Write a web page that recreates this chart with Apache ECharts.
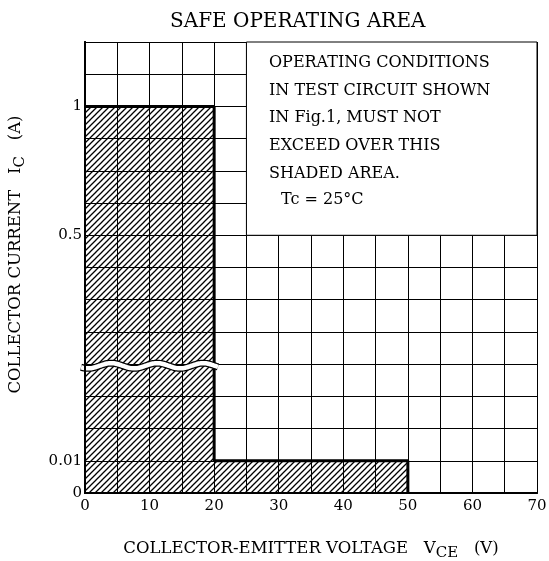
<!DOCTYPE html>
<html><head><meta charset="utf-8">
<script src="https://cdn.jsdelivr.net/npm/echarts@6/dist/echarts.min.js"></script>
<style>html,body{margin:0;padding:0;background:#fff;}#c{width:549px;height:561px;}</style>
</head><body><div id="c"></div>
<script>
// ---- data ----
const xTicks = [0, 10, 20, 30, 40, 50, 60, 70];
const yTickValues = [0, 0.01, 0.5, 1];        // real current values (A)
const yTickLabels = ['0', '0.01', '0.5', '1'];
const yTickRows = [0, 1, 8, 12];              // broken-scale grid rows for those values
const soaVce = [0, 20, 20, 50, 50];           // V
const soaIc = [1, 1, 0.01, 0.01, 0];          // A
const noteLines = ['OPERATING CONDITIONS', 'IN TEST CIRCUIT SHOWN', 'IN Fig.1, MUST NOT', 'EXCEED OVER THIS', 'SHADED AREA.'];
const noteTc = 'Tc = 25°C';

// map a current onto the broken axis (piecewise linear between ticks)
function toRow(v) {
  for (let i = 1; i < yTickValues.length; i++) {
    if (v <= yTickValues[i] || i === yTickValues.length - 1) {
      const a = yTickValues[i - 1], b = yTickValues[i];
      const ra = yTickRows[i - 1], rb = yTickRows[i];
      return ra + (v - a) / (b - a) * (rb - ra);
    }
  }
}

// hatch pattern
const tile = document.createElement('canvas');
tile.width = 6; tile.height = 6;
const g = tile.getContext('2d');
g.strokeStyle = '#000'; g.lineWidth = 1.3;
g.beginPath();
g.moveTo(-1, 7); g.lineTo(7, -1);
g.moveTo(-4, 4); g.lineTo(4, -4);
g.moveTo(2, 10); g.lineTo(10, 2);
g.stroke();

const FONT = 'DejaVu Serif';
const chart = echarts.init(document.getElementById('c'), null, {renderer: 'canvas'});

const soaData = soaVce.map((x, i) => [x, toRow(soaIc[i])]);
const breakRow = 3.95;

const frame = {show: true, lineStyle: {color: '#000', width: 2}};

const option = {
  animation: false,
  backgroundColor: '#fff',
  title: {
    text: 'SAFE OPERATING AREA', left: 165, top: 7,
    textStyle: {fontFamily: FONT, fontSize: 20, fontWeight: 'normal', color: '#000'}
  },
  grid: {left: 85, right: 12, top: 42, bottom: 68, containLabel: false, outerBoundsMode: 'none'},
  xAxis: [{
    type: 'value', min: 0, max: 70, interval: 5, position: 'bottom',
    axisLine: frame,
    axisTick: {show: false},
    axisLabel: {
      fontFamily: FONT, fontSize: 15, color: '#000', margin: 6,
      formatter: v => xTicks.includes(v) ? String(v) : ''
    },
    splitLine: {show: true, lineStyle: {color: '#000', width: 1}},
    name: '{a|COLLECTOR-EMITTER VOLTAGE   V}{s|CE}{a|   (V)}',
    nameLocation: 'middle', nameGap: 44,
    nameTextStyle: {
      rich: {
        a: {fontFamily: FONT, fontSize: 16.5, color: '#000'},
        s: {fontFamily: FONT, fontSize: 15, color: '#000', padding: [9, 0, 0, 0]}
      }
    }
  }, {
    type: 'value', min: 0, max: 70, position: 'top',
    axisLine: frame,
    axisTick: {show: false}, axisLabel: {show: false}, splitLine: {show: false}, z: 10
  }],
  yAxis: [{
    type: 'value', min: 0, max: 14, interval: 1, position: 'left',
    axisLine: frame,
    axisTick: {show: false},
    axisLabel: {
      fontFamily: FONT, fontSize: 15, color: '#000', margin: 3,
      formatter: v => { const i = yTickRows.indexOf(v); return i >= 0 ? yTickLabels[i] : ''; }
    },
    splitLine: {show: true, lineStyle: {color: '#000', width: 1}},
    name: '{a|COLLECTOR CURRENT   I}{s|C}{a|   (A)}',
    nameLocation: 'middle', nameGap: 57, nameRotate: 90,
    nameTextStyle: {
      padding: [0, 0, 0, 26],
      rich: {
        a: {fontFamily: FONT, fontSize: 16.5, color: '#000'},
        s: {fontFamily: FONT, fontSize: 15, color: '#000', padding: [9, 0, 0, 0]}
      }
    }
  }, {
    type: 'value', min: 0, max: 14, position: 'right',
    axisLine: frame,
    axisTick: {show: false}, axisLabel: {show: false}, splitLine: {show: false}, z: 10
  }],
  series: [{
    type: 'line', data: soaData, symbol: 'none', z: 3,
    lineStyle: {color: '#000', width: 3},
    areaStyle: {color: {image: tile, repeat: 'repeat'}, opacity: 1, origin: 'start'},
    markArea: {
      silent: true,
      itemStyle: {color: '#fff', opacity: 1, borderColor: '#000', borderWidth: 1},
      data: [[{xAxis: 25, yAxis: 8}, {xAxis: 70, yAxis: 14}]]
    }
  }, {
    type: 'custom', z: 4, silent: true,
    data: [[0, breakRow, 20]],
    renderItem: (params, api) => {
      const p0 = api.coord([api.value(0), api.value(1)]);
      const p1 = api.coord([api.value(2), api.value(1)]);
      const x0 = p0[0] - 4, x1 = p1[0] + 4, y = p0[1];
      const pts = [];
      for (let x = x0; x <= x1; x += 1) {
        pts.push([x, y + 2.6 * Math.sin((x - x0) / 46 * 2 * Math.PI + 0.6)]);
      }
      return {
        type: 'group', children: [
          {type: 'polyline', shape: {points: pts}, style: {stroke: '#000', lineWidth: 7, fill: null}},
          {type: 'polyline', shape: {points: pts}, style: {stroke: '#fff', lineWidth: 4.5, fill: null}}
        ]
      };
    }
  }],
  graphic: noteLines.map((t, i) => ({
    type: 'text', left: 269, top: 55 + i * 27.6, z: 20,
    style: {text: t, font: '16px "' + FONT + '"', fill: '#000'}
  })).concat([{
    type: 'text', left: 281, top: 55 + 5 * 27.6 - 1, z: 20,
    style: {text: noteTc, font: '16px "' + FONT + '"', fill: '#000'}
  }])
};
chart.setOption(option);
</script></body></html>
